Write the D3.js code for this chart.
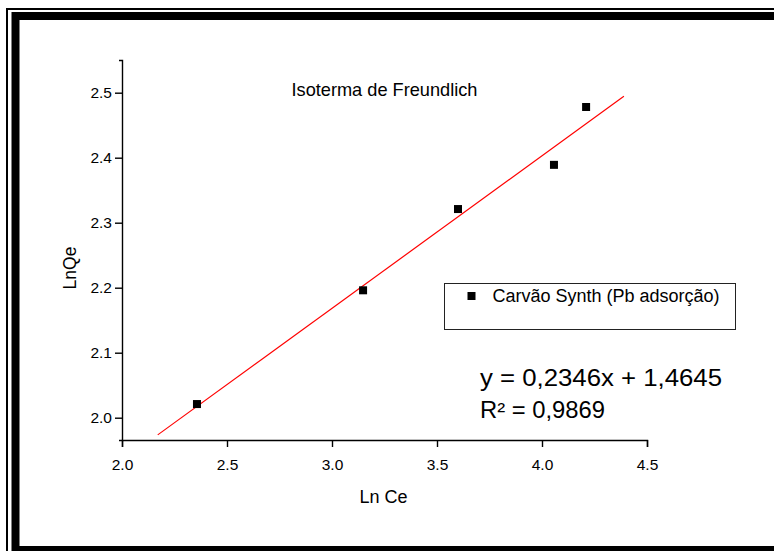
<!DOCTYPE html>
<html>
<head>
<meta charset="utf-8">
<script src="https://cdn.jsdelivr.net/npm/d3@7"></script>
<style>
  body { margin: 0; background: #fff; }
  svg { display: block; font-family: 'Liberation Sans', Arial, sans-serif; }
</style>
</head>
<body>
<svg id="chart" width="774" height="551"></svg>
<script>
// measured points (Ln Ce, LnQe)
const lnCe = [2.357, 3.148, 3.600, 4.057, 4.210]
const lnQe = [2.021, 2.196, 2.321, 2.389, 2.478]
// linear trendline from the equation label
const slope = 0.2346
const intercept = 1.4645
const fitRange = [2.17, 4.39]
// tick labels
const xTicks = [2.0, 2.5, 3.0, 3.5, 4.0, 4.5]
const xMinor = [2.25, 2.75, 3.25, 3.75, 4.25]
const yTicks = [2.0, 2.1, 2.2, 2.3, 2.4, 2.5]
const yMinor = [2.05, 2.15, 2.25, 2.35, 2.45]
// texts
const title = 'Isoterma de Freundlich'
const xLabel = 'Ln Ce'
const yLabel = 'LnQe'
const seriesName = 'Carvão Synth (Pb adsorção)'
const eqLines = ['y = 0,2346x + 1,4645', 'R² = 0,9869']

function makeChart() {
  const svg = d3.select('#chart')

  // double frame round the page (runs off right and bottom)
  svg.append('rect')
    .attr('x', 7).attr('y', 9)
    .attr('width', 820).attr('height', 580)
    .attr('fill', 'none').attr('stroke', '#000').attr('stroke-width', 2)
  svg.append('rect')
    .attr('x', 15.5).attr('y', 16)
    .attr('width', 800).attr('height', 534)
    .attr('fill', 'none').attr('stroke', '#000').attr('stroke-width', 8)

  // scales
  const x = d3.scaleLinear().domain([2.0, 4.5]).range([122, 647])
  const y = d3.scaleLinear().domain([1.9657, 2.5503]).range([440, 60])

  // x axis
  const gx = svg.append('g')
    .attr('transform', 'translate(0,440)')
  gx.call(d3.axisBottom(x).tickValues(xMinor).tickSize(4).tickSizeOuter(0).tickFormat(''))
  gx.call(d3.axisBottom(x).tickValues(xTicks).tickSize(7).tickSizeOuter(7).tickPadding(12)
    .tickFormat(d3.format('.1f')))
  gx.selectAll('text').attr('font-size', 15.5).attr('fill', '#000')
    .attr('font-family', "'Liberation Sans', Arial, sans-serif")

  // y axis
  const gy = svg.append('g')
    .attr('transform', 'translate(122,0)')
  gy.call(d3.axisLeft(y).tickValues(yMinor).tickSize(4).tickSizeOuter(0).tickFormat(''))
  gy.call(d3.axisLeft(y).tickValues(yTicks).tickSize(7).tickSizeOuter(3).tickPadding(3)
    .tickFormat(d3.format('.1f')))
  gy.selectAll('text').attr('font-size', 15.5).attr('fill', '#000')
    .attr('font-family', "'Liberation Sans', Arial, sans-serif")

  svg.selectAll('.domain, .tick line').attr('stroke', '#000').attr('stroke-width', 1.4)

  // trendline
  const line = d3.line().x(d => x(d)).y(d => y(slope * d + intercept))
  svg.append('path')
    .attr('d', line(fitRange))
    .attr('fill', 'none')
    .attr('stroke', '#ff0000')
    .attr('stroke-width', 1.2)

  // points
  svg.append('g')
    .selectAll('rect')
    .data(lnCe.map((v, i) => [v, lnQe[i]]))
    .enter()
    .append('rect')
    .attr('x', d => x(d[0]) - 4)
    .attr('y', d => y(d[1]) - 4)
    .attr('width', 8)
    .attr('height', 8)
    .attr('fill', '#000')

  // title
  svg.append('text')
    .attr('x', 384.5).attr('y', 96)
    .attr('text-anchor', 'middle')
    .attr('font-size', 18.2)
    .text(title)

  // axis titles
  svg.append('text')
    .attr('x', 383.5).attr('y', 503)
    .attr('text-anchor', 'middle')
    .attr('font-size', 18)
    .text(xLabel)
  svg.append('text')
    .attr('transform', 'translate(76,268) rotate(-90)')
    .attr('text-anchor', 'middle')
    .attr('font-size', 17.5)
    .text(yLabel)

  // legend
  const legend = svg.append('g')
  legend.append('rect')
    .attr('x', 444.5).attr('y', 283.5)
    .attr('width', 291).attr('height', 46)
    .attr('fill', '#fff').attr('stroke', '#222').attr('stroke-width', 1)
  legend.append('rect')
    .attr('x', 467.5).attr('y', 292)
    .attr('width', 8).attr('height', 8)
    .attr('fill', '#000')
  legend.append('text')
    .attr('x', 492.5).attr('y', 302)
    .attr('font-size', 18)
    .text(seriesName)

  // equation label
  const eqLen = [242, 125]
  const eqY = [386, 418]
  svg.append('g')
    .selectAll('text')
    .data(eqLines)
    .enter()
    .append('text')
    .attr('x', 480)
    .attr('y', (d, i) => eqY[i])
    .attr('font-size', 23)
    .attr('textLength', (d, i) => eqLen[i])
    .attr('lengthAdjust', 'spacingAndGlyphs')
    .text(d => d)
}

window.onload = makeChart
</script>
</body>
</html>
